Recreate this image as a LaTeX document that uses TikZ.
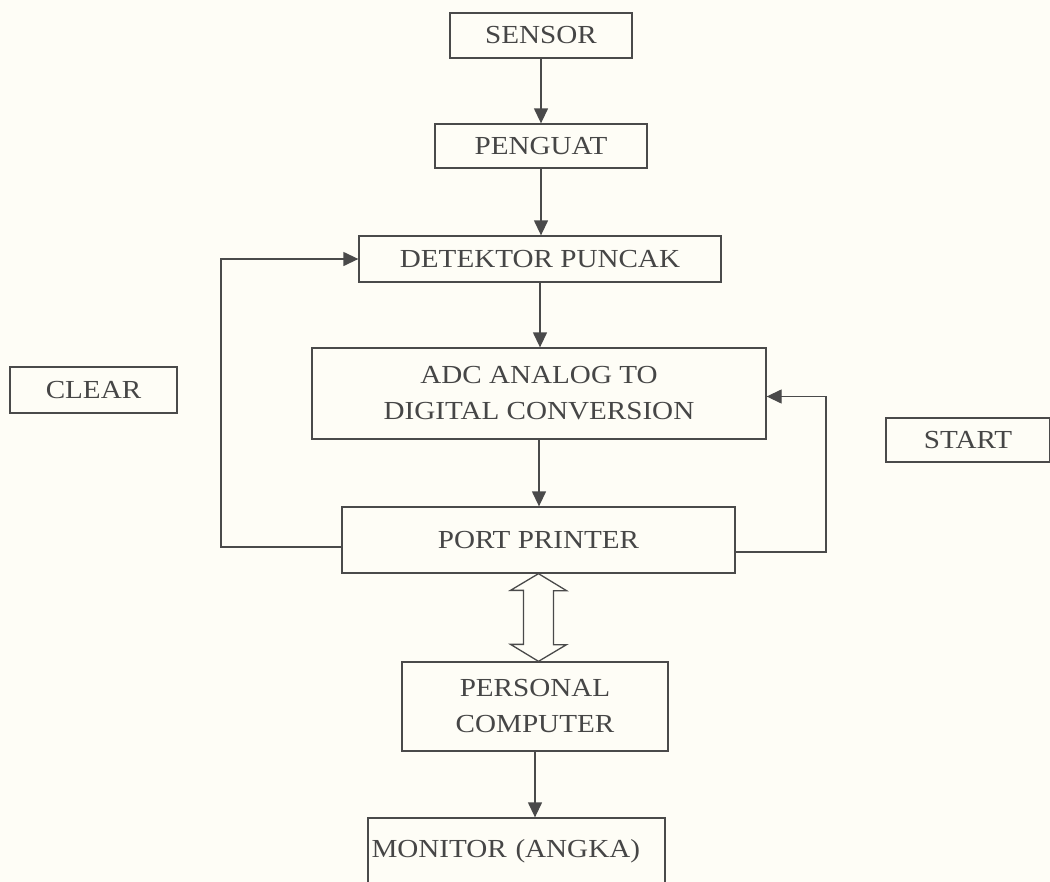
\documentclass[tikz,border=0pt]{standalone}
\usepackage{fontspec}
\setmainfont{Liberation Serif}[FakeStretch=1.12]
\usetikzlibrary{arrows.meta}
\definecolor{ink}{HTML}{4A4A4A}
\definecolor{txt}{HTML}{464646}
\definecolor{paper}{HTML}{FEFDF6}
\tikzset{
  blk/.style={draw=ink, line width=1.3bp, rectangle, inner sep=0pt, text=txt,
    font=\fontsize{26bp}{36bp}\selectfont, align=center},
  arr/.style={draw=ink, line width=1.3bp, -{Triangle[width=14bp,length=15bp]}},
  ln/.style={draw=ink, line width=1.3bp},
}
\begin{document}
\begin{tikzpicture}[x=1bp,y=-1bp]
\fill[paper] (0,0) rectangle (1050,882);
\useasboundingbox (0,0) rectangle (1050,882);

\node[blk, minimum width=182bp, minimum height=45bp] (sensor) at (541,35.5) {SENSOR};
\node[blk, minimum width=212bp, minimum height=44bp] (penguat) at (541,146) {PENGUAT};
\node[blk, minimum width=362bp, minimum height=46bp] (detektor) at (540,259) {DETEKTOR PUNCAK};
\node[blk, minimum width=454bp, minimum height=91bp] (adc) at (539,393.5) {ADC ANALOG TO\\DIGITAL CONVERSION};
\node[blk, minimum width=393bp, minimum height=66bp] (port) at (538.5,540) {PORT PRINTER};
\node[blk, minimum width=266bp, minimum height=89bp] (pc) at (535,706.5) {PERSONAL\\COMPUTER};
\node[blk, minimum width=297bp, minimum height=66bp, text width=290bp, align=left] (monitor) at (516.5,851) {MONITOR (ANGKA)};
\node[blk, minimum width=167bp, minimum height=46bp] (clear) at (93.5,390) {CLEAR};
\node[blk, minimum width=164bp, minimum height=44bp] (start) at (968,440) {START};

\draw[arr] (sensor.south) -- (penguat.north);
\draw[arr] (penguat.south) -- (penguat.south |- detektor.north);
\draw[arr] (detektor.south) -- (detektor.south |- adc.north);
\draw[arr] (adc.south) -- (adc.south |- port.north);
\draw[arr] (pc.south) -- (pc.south |- monitor.north);

\coordinate (cl) at (221,547);
\coordinate (st) at (826,552);
\draw[arr] (port.west |- cl) -- (cl) |- (detektor.west);
\draw[arr] (port.east |- st) -- (st) |- ([yshift=-3bp]adc.east);

\draw[ln, line join=miter] (port.south) -- ++(28,17) -- ++(-13,0) -- ++(0,54) -- ++(13,0)
  -- (port.south |- pc.north) -- ++(-28,-17) -- ++(13,0) -- ++(0,-54) -- ++(-13,0) -- cycle;
\end{tikzpicture}
\end{document}
